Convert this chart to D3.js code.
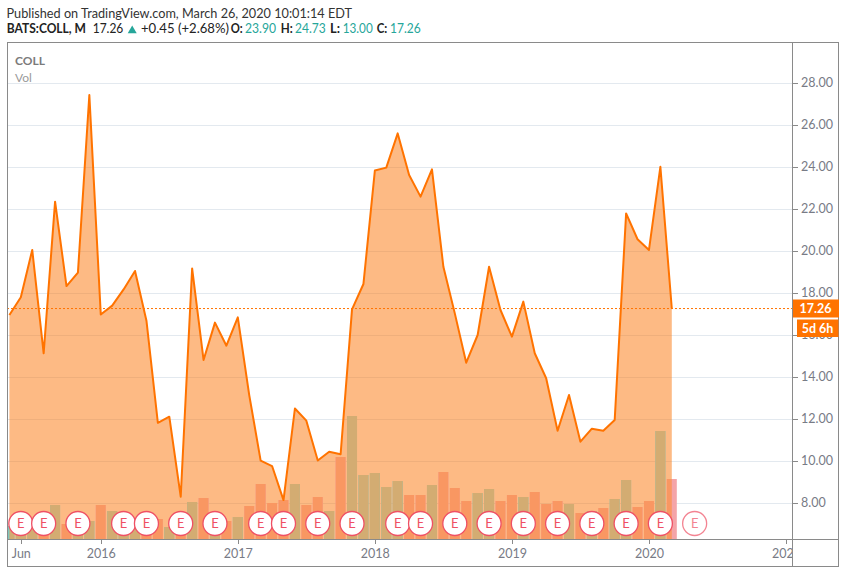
<!DOCTYPE html>
<html>
<head>
<meta charset="utf-8">
<script src="https://cdn.jsdelivr.net/npm/d3@7"></script>
<style>
  html, body { margin: 0; padding: 0; background: #ffffff; }
  svg { display: block; }
</style>
</head>
<body>
<svg id="chart" width="846" height="574"></svg>
<script>
// ---------------- DATA ----------------
const months = [
  "2015-05","2015-06","2015-07","2015-08","2015-09","2015-10","2015-11","2015-12",
  "2016-01","2016-02","2016-03","2016-04","2016-05","2016-06","2016-07","2016-08","2016-09","2016-10","2016-11","2016-12",
  "2017-01","2017-02","2017-03","2017-04","2017-05","2017-06","2017-07","2017-08","2017-09","2017-10","2017-11","2017-12",
  "2018-01","2018-02","2018-03","2018-04","2018-05","2018-06","2018-07","2018-08","2018-09","2018-10","2018-11","2018-12",
  "2019-01","2019-02","2019-03","2019-04","2019-05","2019-06","2019-07","2019-08","2019-09","2019-10","2019-11","2019-12",
  "2020-01","2020-02","2020-03"
];
const closes = [
  16.95, 17.80, 20.05, 15.13, 22.35, 18.33, 18.97, 27.43,
  16.98, 17.40, 18.17, 19.05, 16.68, 11.82, 12.11, 8.30, 19.17, 14.81, 16.59, 15.49,
  16.84, 13.14, 10.02, 9.76, 8.14, 12.50, 11.92, 10.02, 10.44, 10.32, 17.22, 18.43,
  23.83, 23.97, 25.60, 23.62, 22.59, 23.89, 19.25, 17.03, 14.68, 16.00, 19.25, 17.19,
  15.92, 17.59, 15.13, 13.94, 11.44, 13.14, 10.92, 11.54, 11.44, 11.95, 21.79, 20.56,
  20.05, 24.01, 17.26
];
// volume (millions of shares)
const volumes = [
  1.3, 1.6, 1.9, 2.0, 3.4, 1.5, 1.6, 1.8,
  3.4, 2.8, 1.7, 1.6, 2.0, 2.0, 1.2, 2.2, 3.7, 4.1, 2.0, 1.8,
  2.2, 3.3, 5.5, 3.6, 3.9, 5.5, 3.4, 4.2, 2.8, 8.2, 12.3, 6.4,
  6.6, 5.2, 5.8, 4.4, 4.4, 5.4, 6.7, 5.1, 3.8, 4.6, 5.0, 3.8,
  4.4, 4.2, 4.7, 3.5, 3.8, 3.5, 2.6, 2.8, 3.1, 4.0, 5.9, 3.2,
  3.8, 10.8, 6.0
];
const earnings = [
  "2015-06","2015-08","2015-11","2016-03","2016-05","2016-08","2016-11",
  "2017-03","2017-05","2017-08","2017-11","2018-03","2018-05","2018-08","2018-11",
  "2019-02","2019-05","2019-08","2019-11","2020-02","2020-05"
];
const priceTicks = [8, 10, 12, 14, 16, 18, 20, 22, 24, 26, 28];
const timeTickMonths = ["2015-06","2016-01","2017-01","2018-01","2019-01","2020-01","2021-01"];
const timeTickLabels = ["Jun","2016","2017","2018","2019","2020","2021"];
const lastPrice = 17.26;
const countdown = "5d 6h";
const headerTitle = "Published on TradingView.com, March 26, 2020 10:01:14 EDT";
const symbolLabel = "BATS:COLL, M";
const changeLabel = "+0.45 (+2.68%)";
const ohlcKeys = ["O:", "H:", "L:", "C:"];
const ohlcValues = [23.90, 24.73, 13.00, 17.26];

// ---------------- LAYOUT ----------------
const frame = { left: 7, top: 42, right: 839, bottom: 567 };
const plot = { left: 7, top: 42, right: 792, bottom: 539 };
const C = {
  line: "#ff7300",
  area: "rgba(251,117,10,0.5)",
  grid: "#e3e9ef",
  frame: "#8a8a8a",
  axisText: "#787b86",
  teal: "#26a69a",
  upOut: "#7fc6bd", downOut: "#f4a4a8",
  upIn: "#d3ac72", downIn: "#f99762",
  earn: "#ef5064"
};

const svg = d3.select("#chart");
const idx = m => { const [y, mo] = m.split("-").map(Number); return (y - 2015) * 12 + (mo - 5); };

const x = d3.scaleLinear().domain([0, 58]).range([9.4, 671.8]);
const y = d3.scaleLinear().domain([8, 28]).range([503, 83]);
const yv = d3.scaleLinear().domain([0, 12.3]).range([plot.bottom, 416]);

const data = months.map((m, i) => ({
  i: idx(m), close: closes[i], vol: volumes[i],
  up: i === 0 ? true : closes[i] >= closes[i - 1]
}));

const defs = svg.append("defs");
defs.append("clipPath").attr("id", "plotClip")
  .append("rect").attr("x", plot.left).attr("y", plot.top)
  .attr("width", plot.right - plot.left).attr("height", plot.bottom - plot.top);
defs.append("clipPath").attr("id", "xAxisClip")
  .append("rect").attr("x", plot.left).attr("y", plot.bottom)
  .attr("width", plot.right - plot.left).attr("height", frame.bottom - plot.bottom);

const area = d3.area().x(d => x(d.i)).y0(plot.bottom).y1(d => y(d.close));
const line = d3.line().x(d => x(d.i)).y(d => y(d.close));

defs.append("clipPath").attr("id", "areaClip")
  .append("path").attr("d", area(data));

const g = svg.append("g").attr("clip-path", "url(#plotClip)");

// grid
g.append("g").selectAll("line").data(priceTicks).join("line")
  .attr("x1", plot.left).attr("x2", plot.right)
  .attr("y1", d => Math.round(y(d)) + 0.5).attr("y2", d => Math.round(y(d)) + 0.5)
  .attr("stroke", C.grid).attr("stroke-width", 1);

// area
g.append("path").attr("d", area(data)).attr("fill", C.area);

// volume bars (outside area colours)
const bw = 10;
g.append("g").selectAll("rect").data(data).join("rect")
  .attr("x", d => x(d.i) - bw / 2).attr("width", bw)
  .attr("y", d => yv(d.vol)).attr("height", d => plot.bottom - yv(d.vol))
  .attr("fill", d => d.up ? C.upOut : C.downOut);
// volume bars (inside area colours)
g.append("g").attr("clip-path", "url(#areaClip)")
  .selectAll("rect").data(data).join("rect")
  .attr("x", d => x(d.i) - bw / 2).attr("width", bw)
  .attr("y", d => yv(d.vol)).attr("height", d => plot.bottom - yv(d.vol))
  .attr("fill", d => d.up ? C.upIn : C.downIn);

// price line
g.append("path").attr("d", line(data)).attr("fill", "none")
  .attr("stroke", C.line).attr("stroke-width", 2).attr("stroke-linejoin", "round");

// last price dotted line
g.append("line")
  .attr("x1", plot.left).attr("x2", plot.right)
  .attr("y1", y(lastPrice)).attr("y2", y(lastPrice))
  .attr("stroke", C.line).attr("stroke-width", 1).attr("stroke-dasharray", "2,2");

// earnings markers
const eg = g.append("g").selectAll("g").data(earnings).join("g")
  .attr("transform", m => `translate(${x(idx(m))},523.5)`)
  .attr("opacity", m => idx(m) > 58 ? 0.7 : 1);
eg.append("circle").attr("r", 12).attr("fill", "#fff")
  .attr("stroke", C.earn).attr("stroke-width", 1.3);
eg.append("text").text("E").attr("text-anchor", "middle").attr("dy", "0.36em")
  .attr("font-family", "Lato, 'Open Sans', sans-serif").attr("font-size", 13)
  .attr("fill", C.earn);

// ---------------- FRAME ----------------
const fr = svg.append("g").attr("fill", "none").attr("stroke", C.frame).attr("stroke-width", 1);
fr.append("rect").attr("x", frame.left + 0.5).attr("y", frame.top + 0.5)
  .attr("width", frame.right - frame.left - 1).attr("height", frame.bottom - frame.top - 1);
fr.append("line").attr("x1", plot.right + 0.5).attr("x2", plot.right + 0.5)
  .attr("y1", frame.top).attr("y2", frame.bottom);
fr.append("line").attr("x1", frame.left).attr("x2", frame.right)
  .attr("y1", plot.bottom + 0.5).attr("y2", plot.bottom + 0.5);

// ---------------- PRICE AXIS ----------------
const axisFont = "Lato, 'Open Sans', sans-serif";
const pa = svg.append("g");
pa.selectAll("line").data(priceTicks).join("line")
  .attr("x1", plot.right + 1).attr("x2", plot.right + 6)
  .attr("y1", d => Math.round(y(d)) + 0.5).attr("y2", d => Math.round(y(d)) + 0.5)
  .attr("stroke", C.frame);
pa.selectAll("text").data(priceTicks).join("text")
  .attr("x", 801).attr("y", d => y(d)).attr("dy", "0.35em")
  .attr("font-family", axisFont).attr("font-size", 12.5).attr("fill", C.axisText)
  .text(d => d3.format(".2f")(d));

// last price label
pa.append("rect").attr("x", plot.right + 1).attr("y", 299.5).attr("width", 46).attr("height", 18)
  .attr("fill", C.line);
pa.append("text").attr("x", 815.5).attr("y", 308.5).attr("dy", "0.36em")
  .attr("text-anchor", "middle").attr("font-family", axisFont).attr("font-size", 12.5)
  .attr("font-weight", "bold").attr("fill", "#fff").text(d3.format(".2f")(lastPrice));
pa.append("rect").attr("x", 797).attr("y", 319.5).attr("width", 41.5).attr("height", 17.5)
  .attr("fill", C.line);
pa.append("text").attr("x", 817.5).attr("y", 328.2).attr("dy", "0.36em")
  .attr("text-anchor", "middle").attr("font-family", axisFont).attr("font-size", 12.5)
  .attr("font-weight", "bold").attr("fill", "#fff").text(countdown);

// ---------------- TIME AXIS ----------------
const ta = svg.append("g").attr("clip-path", "url(#xAxisClip)");
ta.selectAll("line").data(timeTickMonths).join("line")
  .attr("x1", m => Math.round(x(idx(m))) + 0.5).attr("x2", m => Math.round(x(idx(m))) + 0.5)
  .attr("y1", plot.bottom + 1).attr("y2", plot.bottom + 5)
  .attr("stroke", C.frame);
ta.selectAll("text").data(timeTickMonths).join("text")
  .attr("x", m => x(idx(m)) + 0.5).attr("y", 558)
  .attr("text-anchor", "middle").attr("font-family", axisFont).attr("font-size", 12.5)
  .attr("fill", C.axisText)
  .text((m, i) => timeTickLabels[i]);

// ---------------- LEGEND (inside plot) ----------------
svg.append("text").attr("x", 15).attr("y", 65).attr("font-family", "Lato, sans-serif")
  .attr("font-size", 12).attr("font-weight", "bold").attr("fill", "#7b7b7b").text("COLL");
svg.append("text").attr("x", 15).attr("y", 81.5).attr("font-family", "Lato, sans-serif")
  .attr("font-size", 12).attr("fill", "#9a9a9a").text("Vol");

// ---------------- HEADER ----------------
const hf = "Lato, 'Open Sans', sans-serif";
svg.append("text").attr("x", 6.5).attr("y", 17.5).attr("font-family", hf).attr("font-size", 13)
  .attr("fill", "#333").attr("textLength", 345.5).attr("lengthAdjust", "spacingAndGlyphs")
  .text(headerTitle);

function seg(txt, x0, x1, opts) {
  const t = svg.append("text").attr("x", x0).attr("y", 33.3)
    .attr("font-family", hf).attr("font-size", 13)
    .attr("fill", opts.fill || "#222").attr("font-weight", opts.bold ? "bold" : "normal")
    .attr("textLength", x1 - x0).attr("lengthAdjust", "spacingAndGlyphs").text(txt);
  return t;
}
seg(symbolLabel, 6.7, 86, { bold: true });
seg(d3.format(".2f")(lastPrice), 92.7, 123.3, {});
svg.append("path")
  .attr("d", `M127.7,33.2 L136.7,33.2 L132.2,25.6 Z`).attr("fill", C.teal);
seg(changeLabel, 141, 229, {});
const keyPos = [[230.7, 242.7], [280.7, 292.7], [330, 340], [376.7, 387.3]];
const valPos = [[245, 276], [295, 325.7], [342.7, 372.7], [390, 420.7]];
ohlcKeys.forEach((k, i) => {
  seg(k, keyPos[i][0], keyPos[i][1], { bold: true });
  seg(d3.format(".2f")(ohlcValues[i]), valPos[i][0], valPos[i][1], { fill: C.teal });
});
</script>
</body>
</html>
